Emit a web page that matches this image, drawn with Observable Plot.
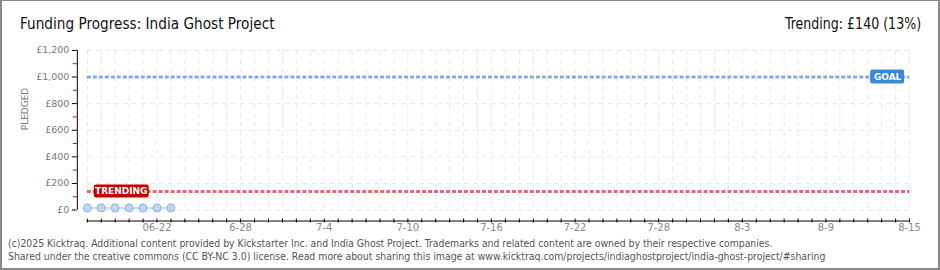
<!DOCTYPE html>
<html>
<head>
<meta charset="utf-8">
<script src="https://cdn.jsdelivr.net/npm/d3@7"></script>
<script src="https://cdn.jsdelivr.net/npm/@observablehq/plot@0.6"></script>
<style>
  html, body { margin: 0; padding: 0; background: #fff; }
  #wrap { position: relative; width: 940px; height: 270px; box-sizing: border-box;
          border: 1px solid #888; border-left-width: 2px; border-right-width: 2px; border-bottom-width: 2px; background: #fff; overflow: hidden; }
  #chart { position: absolute; left: -2px; top: -1px; }
  .title { position: absolute; top: 13px; font-family: "DejaVu Sans Condensed", "DejaVu Sans", sans-serif; font-size: 16.5px; color: #111; white-space: nowrap; }
  #title { left: 18px; transform: scaleX(0.92); transform-origin: left center; }
  #trend { right: 17px; transform: scaleX(0.85); transform-origin: right center; }
  .foot { position: absolute; left: 6px; font-family: "DejaVu Sans Condensed", "DejaVu Sans", sans-serif; font-size: 10.5px; color: #555; white-space: nowrap; transform: scaleX(0.985); transform-origin: left center; }
</style>
</head>
<body>
<div id="wrap">
  <div id="chart"></div>
  <div class="title" id="title">Funding Progress: India Ghost Project</div>
  <div class="title" id="trend">Trending: £140 (13%)</div>
  <div class="foot" style="top:236px">(c)2025 Kicktraq. Additional content provided by Kickstarter Inc. and India Ghost Project. Trademarks and related content are owned by their respective companies.</div>
  <div class="foot" style="top:249px; transform: scaleX(0.99);">Shared under the creative commons (CC BY-NC 3.0) license. Read more about sharing this image at www.kicktraq.com/projects/indiaghostproject/india-ghost-project/#sharing</div>
</div>
<script>
// ---- data ----
const dates = ["2025-06-17","2025-06-18","2025-06-19","2025-06-20","2025-06-21","2025-06-22","2025-06-23"];
const pledged = [16, 16, 16, 16, 16, 16, 16];
const goal = 1000;
const trending = 140;
const startDate = "2025-06-17";
const endDate = "2025-08-15";
const xTickDates = ["2025-06-22","2025-06-28","2025-07-04","2025-07-10","2025-07-16","2025-07-22","2025-07-28","2025-08-03","2025-08-09","2025-08-15"];
const xTickLabels = ["06-22","6-28","7-4","7-10","7-16","7-22","7-28","8-3","8-9","8-15"];
const yTicks = [0, 200, 400, 600, 800, 1000, 1200];
const yTickLabels = ["£0","£200","£400","£600","£800","£1,000","£1,200"];
const yMinorTicks = [100, 300, 500, 700, 900, 1100];

// ---- build ----
const parse = d3.utcParse("%Y-%m-%d");
const data = dates.map((d, i) => ({date: parse(d), value: pledged[i]}));
const x0 = parse(startDate), x1 = parse(endDate);
const allDays = d3.utcDay.range(x0, d3.utcDay.offset(x1, 1));
const xLabelMap = new Map(xTickDates.map((d, i) => [+parse(d), xTickLabels[i]]));
const yLabelMap = new Map(yTicks.map((v, i) => [v, yTickLabels[i]]));
const tickFont = "DejaVu Sans, sans-serif";

const chart = Plot.plot({
  width: 940,
  height: 270,
  marginLeft: 87,
  marginRight: 29,
  marginTop: 50,
  marginBottom: 60,
  x: {type: "utc", domain: [x0, x1]},
  y: {domain: [0, 1200]},
  style: {background: "transparent", fontFamily: tickFont, overflow: "visible"},
  marks: [
    // grid
    Plot.ruleX(allDays, {stroke: "#e8e8e8", strokeDasharray: "5,4"}),
    Plot.ruleY(yTicks, {stroke: "#e6e6e6", strokeDasharray: "5,4"}),
    // pledged series
    Plot.areaY(data, {x: "date", y: "value", fill: "#e8f1fb"}),
    Plot.lineY(data, {x: "date", y: "value", stroke: "#bcd5ee", strokeWidth: 1.5}),
    // goal + trending lines
    Plot.ruleY([goal], {stroke: "#86acdc", strokeWidth: 3, strokeDasharray: "4,2"}),
    Plot.ruleY([trending], {stroke: "#dd6b6b", strokeWidth: 3, strokeDasharray: "4,2"}),
    Plot.dot(data, {x: "date", y: "value", r: 4, fill: "#bcd8f4", stroke: "#8fb3dc", strokeWidth: 1}),
    // GOAL label
    Plot.rect([goal], {x1: () => x1, x2: () => x1, y1: d => d, y2: d => d,
      insetLeft: -39, insetRight: 5, insetTop: -7, insetBottom: -7, fill: "#3b87d8", rx: 2}),
    Plot.text([goal], {x: () => x1, y: d => d, text: () => "GOAL", dx: -22, fill: "white",
      fontWeight: "bold", fontSize: 9, fontFamily: tickFont}),
    // TRENDING label
    Plot.rect([trending], {x1: () => x0, x2: () => x0, y1: d => d, y2: d => d,
      insetLeft: 7, insetRight: -62, insetTop: -6.5, insetBottom: -6.5, fill: "#c00000", rx: 2}),
    Plot.text([trending], {x: () => x0, y: d => d, text: () => "TRENDING", dx: 34, fill: "white",
      fontWeight: "bold", fontSize: 9, fontFamily: tickFont}),
    // y axis
    Plot.ruleX([x0], {y1: 0, y2: 1200, dx: -10, stroke: "#000"}),
    Plot.axisY(yTicks, {tickSize: 5, tickPadding: 3, dx: -10, stroke: "#000",
      tickFormat: d => yLabelMap.get(d), fill: "#777", fontSize: 9.5, label: null}),
    Plot.axisY(yMinorTicks, {tickSize: 4, dx: -10, stroke: "#e00000", tickFormat: () => "", label: null}),
    Plot.text(["PLEDGED"], {frameAnchor: "left", rotate: -90, dx: -62, fill: "#777",
      fontSize: 9, fontFamily: tickFont, text: d => d, letterSpacing: "1px"}),
    // x axis
    Plot.ruleY([0], {dy: 11, stroke: "#000"}),
    Plot.axisX(allDays, {tickSize: 4, dy: 9, stroke: "#000", tickFormat: () => "", label: null}),
    Plot.axisX(xTickDates.map(parse), {tickSize: 0, tickPadding: 0, dy: 14, fill: "#888", fontSize: 10,
      tickFormat: d => xLabelMap.get(+d), label: null})
  ]
});
document.getElementById("chart").appendChild(chart);
</script>
</body>
</html>
